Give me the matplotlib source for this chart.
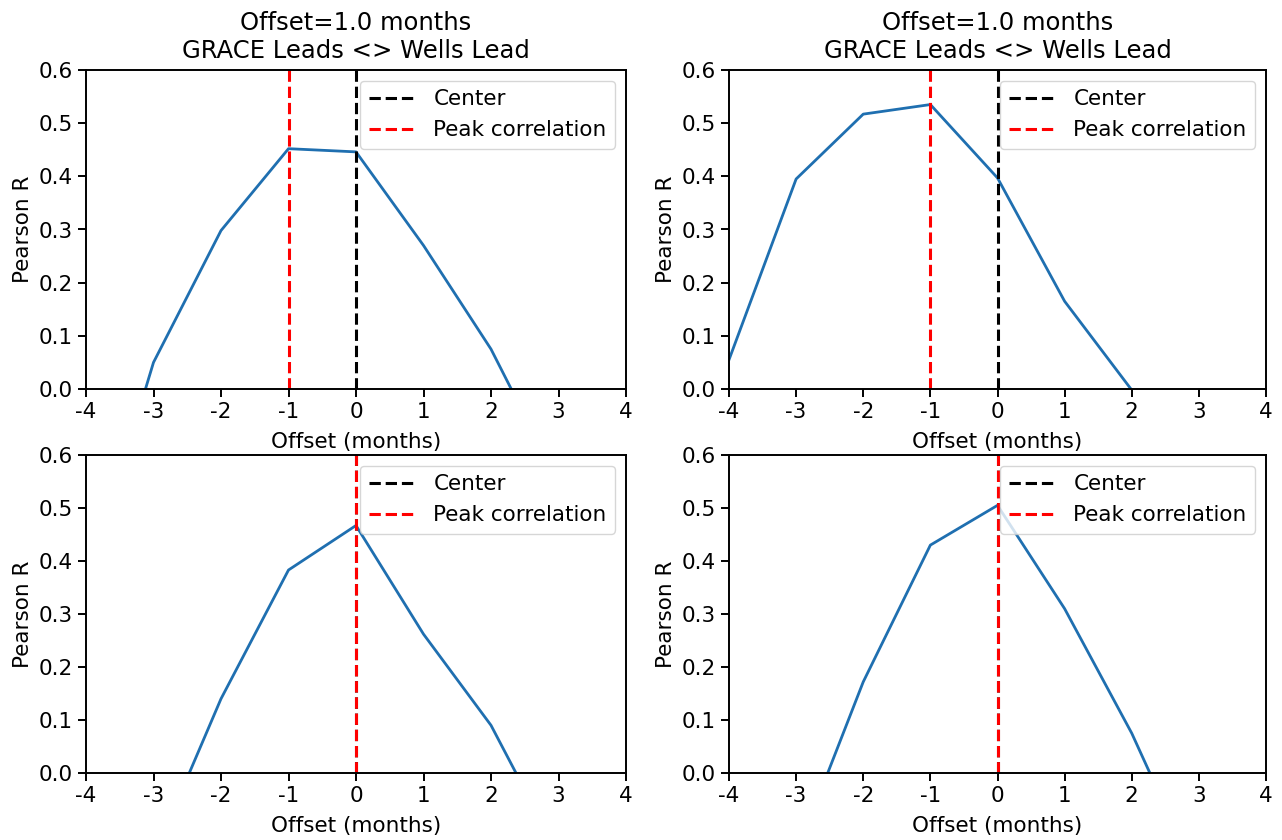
import matplotlib
matplotlib.use('Agg')
import matplotlib.pyplot as plt
import numpy as np

plt.rcParams['axes.unicode_minus'] = False

# offsets (months) and Pearson R for each panel
offsets = np.array([-4, -3, -2, -1, 0, 1, 2, 3, 4])
r_top_left = [-0.37, 0.05, 0.298, 0.452, 0.446, 0.27, 0.075, -0.175, -0.35]
r_top_right = [0.055, 0.395, 0.517, 0.535, 0.397, 0.165, -0.002, -0.2, -0.35]
r_bot_left = [-0.35, -0.158, 0.14, 0.383, 0.467, 0.262, 0.09, -0.153, -0.35]
r_bot_right = [-0.35, -0.153, 0.172, 0.43, 0.505, 0.31, 0.075, -0.203, -0.35]

title = "Offset=1.0 months\nGRACE Leads <> Wells Lead"

fig = plt.figure(figsize=(12.82, 8.4), dpi=100)
boxes = [
    (86 / 1282, 1 - 389 / 840, 540 / 1282, 319 / 840),
    (729 / 1282, 1 - 389 / 840, 537 / 1282, 319 / 840),
    (86 / 1282, 1 - 773 / 840, 540 / 1282, 318 / 840),
    (729 / 1282, 1 - 773 / 840, 537 / 1282, 318 / 840),
]
series = [r_top_left, r_top_right, r_bot_left, r_bot_right]

for i, (box, r) in enumerate(zip(boxes, series)):
    ax = fig.add_axes(box)
    r = np.array(r)
    ax.plot(offsets, r, color='#1f6fb0', lw=2)
    ax.axvline(0, color='black', ls='--', lw=2.2, label='Center')
    ax.axvline(offsets[np.argmax(r)], color='red', ls='--', lw=2.2, label='Peak correlation')
    ax.set_xlim(-4, 4)
    ax.set_ylim(0, 0.6)
    ax.set_xticks(range(-4, 5))
    ax.set_yticks([0, 0.1, 0.2, 0.3, 0.4, 0.5, 0.6])
    ax.tick_params(labelsize=15.5, width=1.4, length=6)
    ax.set_xlabel('Offset (months)', fontsize=15.5, labelpad=7)
    ax.set_ylabel('Pearson R', fontsize=15.5)
    for s in ax.spines.values():
        s.set_linewidth(1.4)
    if i < 2:
        ax.set_title(title, fontsize=17.5, pad=9)
    ax.legend(loc='upper right', fontsize=15.5, handlelength=2.2)

plt.savefig('out.png', dpi=100)
